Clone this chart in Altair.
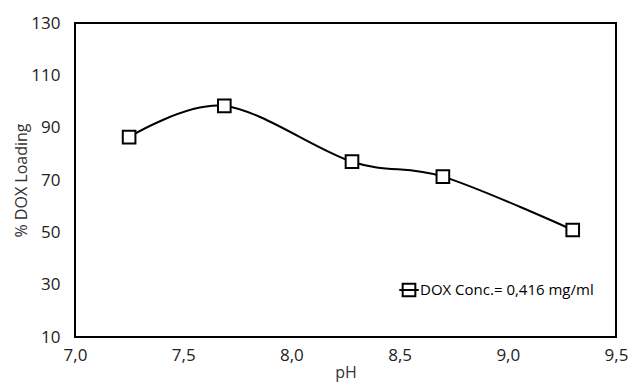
import altair as alt
import pandas as pd

ph = [7.25, 7.69, 8.28, 8.70, 9.30]
loading = [86.4, 98.3, 77.0, 71.3, 50.9]
series_name = "DOX Conc.= 0,416 mg/ml"
x_ticks = [7.0, 7.5, 8.0, 8.5, 9.0, 9.5]
y_ticks = [10, 30, 50, 70, 90, 110, 130]

df = pd.DataFrame({"pH": ph, "loading": loading, "series": [series_name] * len(ph)})

FONT = "Open Sans"

base = alt.Chart(df).encode(
    x=alt.X(
        "pH:Q",
        scale=alt.Scale(domain=[7.0, 9.5], nice=False, zero=False),
        axis=alt.Axis(
            values=x_ticks,
            labelExpr="replace(format(datum.value, '.1f'), '.', ',')",
            title="pH",
            grid=False,
            ticks=False,
            domain=False,
            labelPadding=10,
            titlePadding=1,
            labelFontSize=17,
            titleFontSize=16,
            labelFlush=False,
        ),
    ),
    y=alt.Y(
        "loading:Q",
        scale=alt.Scale(domain=[10, 130], nice=False, zero=False),
        axis=alt.Axis(
            values=y_ticks,
            title="% DOX Loading",
            grid=False,
            ticks=False,
            domain=False,
            labelPadding=15,
            titlePadding=1,
            labelFontSize=17,
            titleFontSize=16,
            labelFlush=False,
        ),
    ),
)

line = base.mark_line(interpolate="cardinal", strokeWidth=2).encode(
    color=alt.Color(
        "series:N",
        scale=alt.Scale(range=["black"]),
        legend=alt.Legend(
            title=None,
            orient="none",
            legendX=323,
            legendY=256,
            symbolType="M-1,0H1M-0.65,-0.65H0.65V0.65H-0.65Z",
            symbolSize=380,
            symbolStrokeWidth=2,
            symbolStrokeColor="black",
            symbolFillColor="white",
            labelFontSize=15,
            labelFont=FONT,
            labelColor="black",
            labelOffset=0,
            labelLimit=400,
            padding=0,
        ),
    )
)

points = base.mark_point(
    shape="square", size=160, fill="white", stroke="black", strokeWidth=2, opacity=1, filled=False
)

chart = (
    alt.layer(line, points)
    .properties(
        width=541,
        height=314,
        background="white",
        autosize=alt.AutoSizeParams(type="none"),
        padding={"left": 67, "top": 15, "right": 12, "bottom": 46},
    )
    .configure_view(stroke="black", strokeWidth=2)
    .configure_axis(
        labelFont=FONT,
        titleFont=FONT,
        labelColor="#222222",
        titleColor="#333333",
        titleFontWeight="normal",
    )
)

chart.save("out.html", embed_options={"renderer": "svg", "actions": False})
